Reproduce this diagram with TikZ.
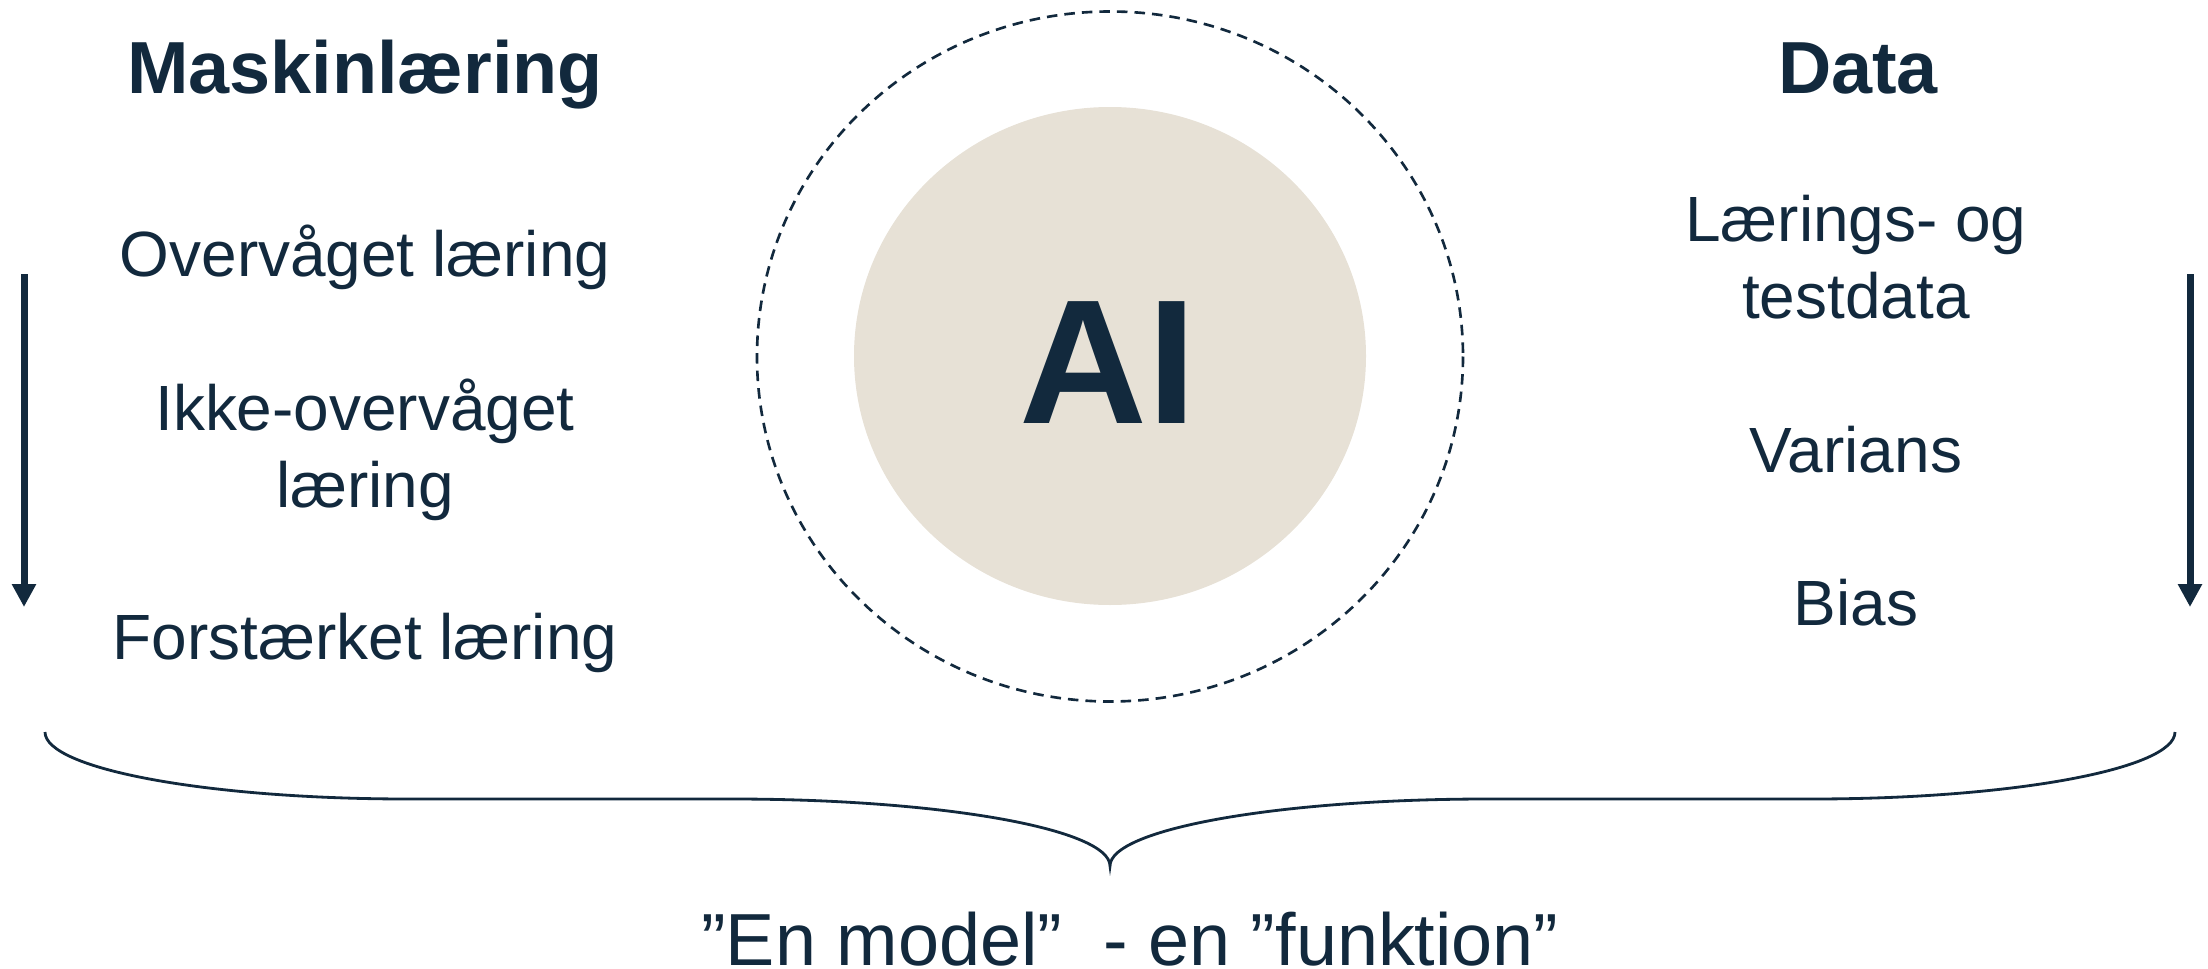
\documentclass[tikz,border=0pt]{standalone}
\usepackage{fontspec}
\setmainfont{Liberation Sans}
\usepackage{xcolor}
\usetikzlibrary{arrows.meta}

\definecolor{navy}{HTML}{12293D}
\definecolor{sand}{HTML}{E7E1D6}

\begin{document}
\begin{tikzpicture}[x=0.1mm, y=-0.1mm,
  every node/.style={text=navy, inner sep=0pt},
  head/.style={font=\fontsize{21}{25}\selectfont\bfseries, anchor=base},
  item/.style={font=\fontsize{18.2}{21.8}\selectfont, anchor=base, align=center},
  flow/.style={navy, line width=0.7mm, -{Triangle[width=2.3mm, length=2.3mm]}}]
\useasboundingbox (0,0) rectangle (2208,969);

\fill[sand] (1110,356) ellipse [x radius=256, y radius=249];
\draw[navy, line width=0.75pt, dash pattern=on 3pt off 2pt] (1110,356.5) ellipse [x radius=353, y radius=345];
\node[font=\fontsize{50.4}{60}\selectfont\bfseries, anchor=base] (ai) at (1108,423) {AI};

\node[head] (ml) at (365,94) {Maskinlæring};
\node[item] (sup) at (365,276) {Overvåget læring};
\node[item] (unsup) at (365,507) {Ikke-overvåget\\læring};
\node[item] (reinf) at (365,659) {Forstærket læring};

\node[head] (data) at (1858,94) {Data};
\node[item] (split) at (1856,318) {Lærings- og\\testdata};
\node[item] (var) at (1856,472) {Varians};
\node[item] (bias) at (1856,625) {Bias};

\coordinate (l0) at (24,274);
\coordinate (l1) at (24,607);
\coordinate (r0) at (2190,274);
\coordinate (r1) at (2190,607);
\draw[flow] (l0) -- (l1);
\draw[flow] (r0) -- (r1);

\coordinate (bl) at (45,732);
\coordinate (tip) at (1110,866);
\coordinate (br) at (2175,732);
\draw[navy, line width=0.8pt] (bl) .. controls (45,769) and (208,799) .. (408,799) -- (732,799)
  .. controls (941,799) and (1110,829) .. (tip)
  .. controls (1110,829) and (1279,799) .. (1488,799) -- (1812,799)
  .. controls (2012,799) and (2175,769) .. (br);

\node[font=\fontsize{21}{25}\selectfont, anchor=base] (fn) at (1130,965) {”En model”\ \ - en ”funktion”};
\end{tikzpicture}
\end{document}
